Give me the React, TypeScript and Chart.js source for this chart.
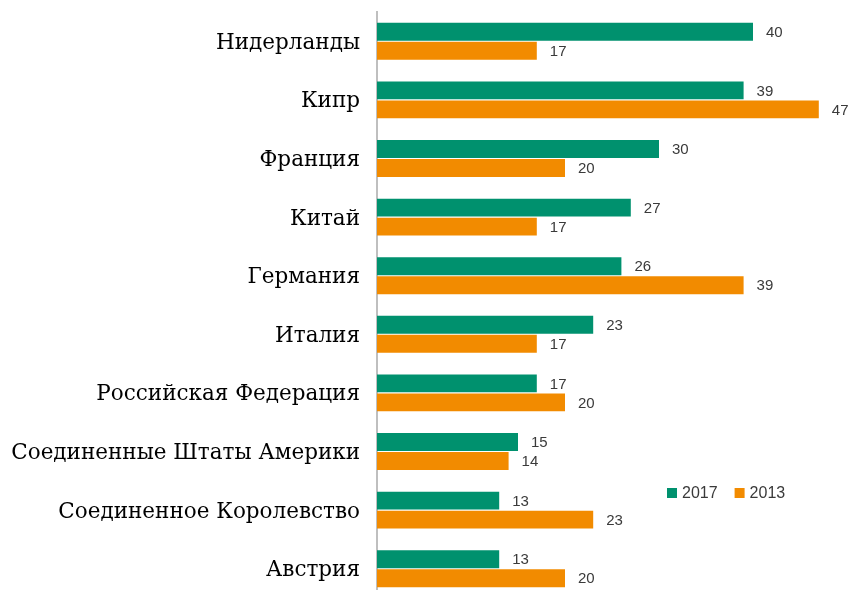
import React, { useEffect, useRef } from "react";
import { Chart, registerables } from "chart.js";

Chart.register(...registerables);

const categories = [
  "Нидерланды",
  "Кипр",
  "Франция",
  "Китай",
  "Германия",
  "Италия",
  "Российская Федерация",
  "Соединенные Штаты Америки",
  "Соединенное Королевство",
  "Австрия",
];
const values2017 = [40, 39, 30, 27, 26, 23, 17, 15, 13, 13];
const values2013 = [17, 47, 20, 17, 39, 17, 20, 14, 23, 20];
const seriesLabels = ["2017", "2013"];
const seriesColors = ["#00916E", "#F28B00"];

const valueLabels = {
  id: "valueLabels",
  afterDatasetsDraw(chart: any) {
    const ctx = chart.ctx;
    ctx.save();
    ctx.font = "15px 'Liberation Sans', Arial, sans-serif";
    ctx.fillStyle = "#3A3A3A";
    ctx.textAlign = "left";
    ctx.textBaseline = "middle";
    chart.data.datasets.forEach((ds: any, i: number) => {
      const meta = chart.getDatasetMeta(i);
      meta.data.forEach((el: any, j: number) => {
        ctx.fillText(String(ds.data[j]), el.x + 13, el.y + 1);
      });
    });
    ctx.restore();
  },
};

const customLegend = {
  id: "customLegend",
  afterDraw(chart: any) {
    const ctx = chart.ctx;
    ctx.save();
    ctx.font = "16px 'Liberation Sans', Arial, sans-serif";
    ctx.textBaseline = "middle";
    ctx.textAlign = "left";
    let x = 667;
    const y = 493;
    chart.data.datasets.forEach((ds: any) => {
      ctx.fillStyle = ds.backgroundColor;
      ctx.fillRect(x, y - 5, 10, 10);
      ctx.fillStyle = "#3A3A3A";
      ctx.fillText(ds.label, x + 15, y + 1);
      x += 15 + ctx.measureText(ds.label).width + 17;
    });
    ctx.restore();
  },
};

export default function App() {
  const ref = useRef<HTMLCanvasElement>(null);
  useEffect(() => {
    if (!ref.current) return;
    const chart = new Chart(ref.current, {
      type: "bar",
      data: {
        labels: categories,
        datasets: [
          {
            label: seriesLabels[0],
            data: values2017,
            backgroundColor: seriesColors[0],
            categoryPercentage: 0.65,
            barPercentage: 0.94,
          },
          {
            label: seriesLabels[1],
            data: values2013,
            backgroundColor: seriesColors[1],
            categoryPercentage: 0.65,
            barPercentage: 0.94,
          },
        ],
      },
      plugins: [valueLabels, customLegend],
      options: {
        indexAxis: "y",
        responsive: false,
        animation: false,
        layout: { padding: { top: 12, bottom: 2, right: 4, left: 0 } },
        plugins: {
          legend: { display: false },
          tooltip: { enabled: false },
        },
        scales: {
          x: {
            display: false,
            min: 0,
            max: 50,
          },
          y: {
            grid: { display: false, drawTicks: false },
            border: { display: true, color: "#BFBFBF", width: 2 },
            ticks: {
              color: "#000000",
              padding: 17,
              labelOffset: 2,
              font: { family: "'DejaVu Serif', serif", size: 21.5 },
            },
            afterFit(scale: any) {
              scale.width = 377;
              scale.paddingTop = 0;
              scale.paddingBottom = 0;
            },
          },
        },
      },
    });
    return () => chart.destroy();
  }, []);
  return (
    <div
      style={{
        position: "fixed",
        left: 0,
        top: 0,
        width: 851,
        height: 590,
        overflow: "hidden",
        background: "#fff",
      }}
    >
      <canvas ref={ref} width={851} height={600} style={{ display: "block" }} />
    </div>
  );
}
